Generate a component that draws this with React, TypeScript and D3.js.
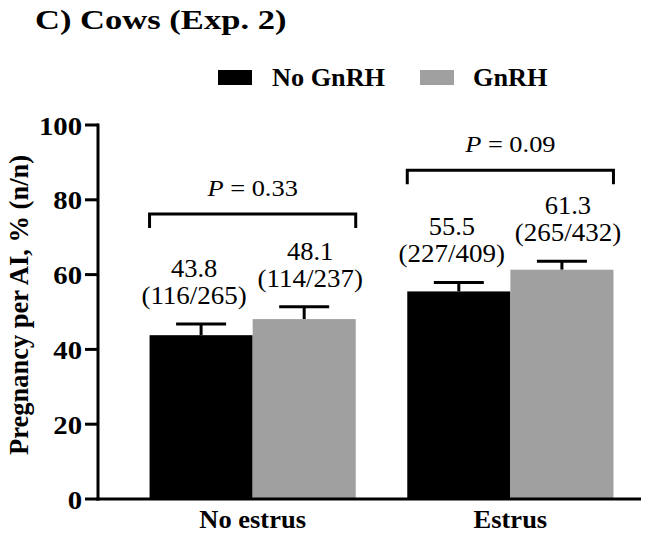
import React from "react";
import * as d3 from "d3";

// Pregnancy per AI by estrus expression and GnRH treatment
const categories = ["No estrus", "Estrus"];
const seriesNames = ["No GnRH", "GnRH"];
const noGnRH = [43.8, 55.5];
const gnRH = [48.1, 61.3];
const noGnRHSem = [3.0, 2.4];
const gnRHSem = [3.3, 2.3];
const noGnRHCounts = ["(116/265)", "(227/409)"];
const gnRHCounts = ["(114/237)", "(265/432)"];
const pValues = ["0.33", "0.09"];
const bracketLevels = [76.2, 87.9];
const yTicks = [0, 20, 40, 60, 80, 100];

const W = 661;
const H = 542;
const FONT = "Liberation Serif, DejaVu Serif, serif";
const colors = ["#000000", "#a0a0a0"];

type LabelProps = {
  x: number;
  y: number;
  sx?: number;
  size: number;
  bold?: boolean;
  anchor?: "start" | "middle" | "end";
  children: React.ReactNode;
};

// Text drawn with a slight horizontal stretch about its anchor point
function Label({ x, y, sx = 1, size, bold, anchor = "start", children }: LabelProps) {
  return (
    <text
      transform={`translate(${x},${y}) scale(${sx},1)`}
      style={{
        fontFamily: FONT,
        fontSize: `${size}px`,
        fontWeight: bold ? 700 : 400,
      }}
      textAnchor={anchor}
      fill="#000"
    >
      {children}
    </text>
  );
}

export default function App() {
  const y = d3.scaleLinear().domain([0, 100]).range([499, 125]);
  const x0 = d3
    .scaleBand<string>()
    .domain(categories)
    .range([98, 665])
    .paddingInner(0.2)
    .paddingOuter(0.2);
  const x1 = d3
    .scaleBand<string>()
    .domain(seriesNames)
    .range([0, x0.bandwidth()])
    .padding(0);

  const values = [noGnRH, gnRH];
  const sems = [noGnRHSem, gnRHSem];
  const counts = [noGnRHCounts, gnRHCounts];
  const labelShift = [-7, 6];
  const capHalf = 25;
  const axisRight = 641;

  return (
    <svg
      width={W}
      height={H}
      viewBox={`0 0 ${W} ${H}`}
      style={{ position: "absolute", left: 0, top: 0, background: "#fff" }}
    >
      <rect x={0} y={0} width={W} height={H} fill="#fff" />

      {/* Title */}
      <Label x={35} y={29} sx={1.28} size={27} bold>
        C) Cows (Exp. 2)
      </Label>

      {/* Legend */}
      <rect x={218} y={70} width={34} height={15} fill={colors[0]} />
      <Label x={272} y={85.5} sx={1.05} size={25} bold>
        {seriesNames[0]}
      </Label>
      <rect x={420} y={70} width={34} height={15} fill={colors[1]} />
      <Label x={473} y={85.5} sx={1.05} size={25} bold>
        {seriesNames[1]}
      </Label>

      {/* Bars, error bars and value labels */}
      {categories.map((cat, ci) => (
        <g key={cat} transform={`translate(${x0(cat)},0)`}>
          {seriesNames.map((s, si) => {
            const v = values[si][ci];
            const bx = x1(s) as number;
            const bw = x1.bandwidth();
            const cx = bx + bw / 2;
            const errY = y(v + sems[si][ci]);
            const line2 = errY - 20;
            const line1 = line2 - 27;
            return (
              <g key={s}>
                <line x1={cx} x2={cx} y1={y(v)} y2={errY} stroke="#000" strokeWidth={3} />
                <line
                  x1={cx - capHalf}
                  x2={cx + capHalf}
                  y1={errY}
                  y2={errY}
                  stroke="#000"
                  strokeWidth={3}
                />
                <rect x={bx} y={y(v)} width={bw} height={y(0) - y(v)} fill={colors[si]} />
                <Label x={cx + labelShift[si]} y={line1} sx={1.06} size={25} anchor="middle">
                  {v.toFixed(1)}
                </Label>
                <Label x={cx + labelShift[si]} y={line2} sx={1.08} size={25} anchor="middle">
                  {counts[si][ci]}
                </Label>
              </g>
            );
          })}
        </g>
      ))}

      {/* Significance brackets */}
      {categories.map((cat, ci) => {
        const left = x0(cat) as number;
        const right = left + x0.bandwidth();
        const by = y(bracketLevels[ci]);
        return (
          <g key={`br-${cat}`}>
            <path
              d={`M${left},${by + 14}V${by}H${right}V${by + 14}`}
              fill="none"
              stroke="#000"
              strokeWidth={3}
            />
            <Label x={(left + right) / 2} y={by - 18} sx={1.1} size={24} anchor="middle">
              <tspan style={{ fontStyle: "italic" }}>P</tspan>
              {` = ${pValues[ci]}`}
            </Label>
          </g>
        );
      })}

      {/* Y axis */}
      <line x1={98} x2={98} y1={y(100) - 1.5} y2={y(0) + 1.5} stroke="#000" strokeWidth={3} />
      {yTicks.map((t) => (
        <g key={t}>
          <line x1={85} x2={98} y1={y(t)} y2={y(t)} stroke="#000" strokeWidth={3} />
          <Label x={82} y={y(t) + 9.5} sx={1.15} size={25} bold anchor="end">
            {t}
          </Label>
        </g>
      ))}

      {/* X axis */}
      <line x1={96.5} x2={axisRight} y1={y(0)} y2={y(0)} stroke="#000" strokeWidth={3} />
      {categories.map((cat) => (
        <Label
          key={`xl-${cat}`}
          x={(x0(cat) as number) + x0.bandwidth() / 2}
          y={528}
          sx={1.06}
          size={25}
          bold
          anchor="middle"
        >
          {cat}
        </Label>
      ))}

      {/* Y axis title */}
      <text
        transform={`translate(28,305) rotate(-90)`}
        style={{ fontFamily: FONT, fontSize: "26.5px", fontWeight: 700 }}
        textAnchor="middle"
        fill="#000"
      >
        Pregnancy per AI, % (n/n)
      </text>
    </svg>
  );
}
